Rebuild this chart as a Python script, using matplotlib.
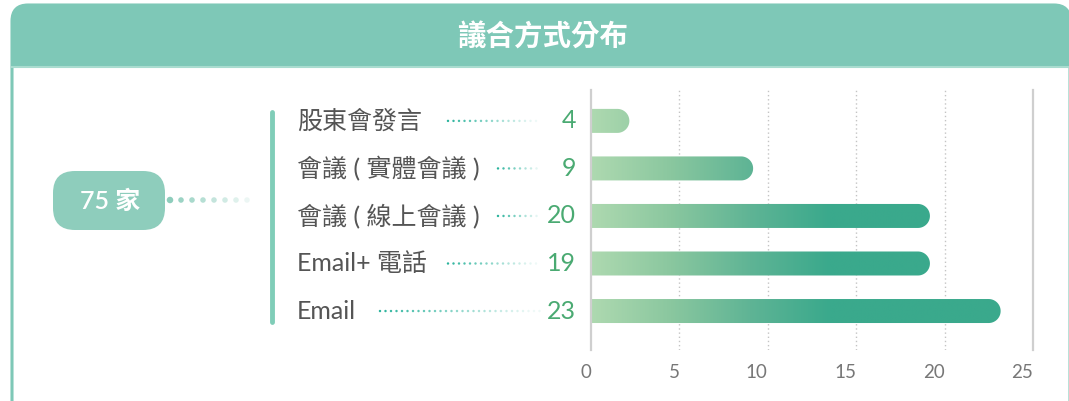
import numpy as np
import matplotlib.pyplot as plt
import matplotlib.transforms as mtransforms
from matplotlib.patches import FancyBboxPatch, Rectangle
from matplotlib.path import Path
from matplotlib.colors import LinearSegmentedColormap

title = "議合方式分布"
total_label = "75 家"
categories = ["股東會發言", "會議 ( 實體會議 )", "會議 ( 線上會議 )", "Email+ 電話", "Email"]
counts = [4, 9, 20, 19, 23]          # numbers printed next to the bars
bar_lengths = [2, 9, 19, 19, 23]     # bar lengths as drawn in the original
xticks = [0, 5, 10, 15, 20, 25]
leader_start = [448, 498, 498, 448, 380]  # x (px) where dotted leaders begin

CJK = ['Lato', 'Noto Sans CJK TC', 'DejaVu Sans']
TEAL = '#7ec8b7'

W, H = 1069, 401
fig = plt.figure(figsize=(W / 100, H / 100), dpi=100)

# background layer in pixel coordinates
bg = fig.add_axes([0, 0, 1, 1])
bg.set_xlim(0, W)
bg.set_ylim(H, 0)
bg.axis('off')

bg.add_patch(FancyBboxPatch((12, 5), 1058, 440, boxstyle="round,pad=0,rounding_size=16",
                            fc='white', ec=TEAL, lw=2.2))
bg.add_patch(FancyBboxPatch((12, 5), 1058, 62, boxstyle="round,pad=0,rounding_size=16",
                            fc=TEAL, ec='none'))
bg.add_patch(Rectangle((12, 40), 1058, 27, fc=TEAL, ec='none'))
bg.plot([12, 1070], [67, 67], color='#a9dccf', lw=1.5)
bg.text(543, 37, title, color='white', fontsize=20.5, fontweight='bold',
        family=CJK, ha='center', va='center')

# total pill + fading dots
bg.add_patch(FancyBboxPatch((53, 171), 112, 59, boxstyle="round,pad=0,rounding_size=22",
                            fc='#8ecdbc', ec='none'))
bg.text(110, 201, total_label, color='white', fontsize=18, fontweight='semibold',
        family=CJK, ha='center', va='center')
for k in range(8):
    bg.scatter(170 + 11 * k, 200, s=22 if k == 0 else 16, color='#8ecdbc',
               alpha=1 - k * 0.12, edgecolors='none')

# vertical bracket
bg.plot([272, 272], [112, 322], color='#80cdb8', lw=3.5, solid_capstyle='round')

# bar axes
ax = fig.add_axes([591 / W, 51 / H, 442 / W, 260 / H])
ax.set_xlim(0, 25)
ax.set_ylim(4.82, -0.65)
ax.patch.set_alpha(0)
for s in ['top', 'bottom']:
    ax.spines[s].set_visible(False)
for s in ['left', 'right']:
    ax.spines[s].set_color('#cfcfcf')
    ax.spines[s].set_linewidth(1.6)
ax.set_yticks([])
ax.set_xticks(xticks)
ax.set_xticklabels([str(t) for t in xticks], color='#777777', fontsize=13.5,
                   family='Lato', ha='right')
ax.tick_params(axis='x', length=0, pad=10)
for t in xticks[1:-1]:
    ax.axvline(t, color='#c4c4c4', lw=1, ls=(0, (1, 2)), zorder=0)

# gradient bars with a rounded right end
px_x = 442 / 25
px_y = 260 / (4.82 + 0.65)
hh = 12 / px_y
rx = 12 / px_x
cap = 3 / px_x  # the rounded end runs a few px past the value
paths = []
for i, v in enumerate(bar_lengths):
    th = np.linspace(-np.pi / 2, np.pi / 2, 40)
    cx = v + cap - rx
    verts = [(0, i - hh), (cx, i - hh)]
    verts += list(zip(cx + rx * np.cos(th), i + hh * np.sin(th)))
    verts += [(0, i + hh), (0, i - hh)]
    codes = [Path.MOVETO] + [Path.LINETO] * (len(verts) - 2) + [Path.CLOSEPOLY]
    paths.append(Path(verts, codes))
bars = Path.make_compound_path(*paths)

cmap = LinearSegmentedColormap.from_list('g', ['#aed9b0', '#8ac79f', '#5fb495', '#3aa98c'])
xs = np.linspace(0, 25, 600)
grad = np.clip(xs / 13.5, 0, 1)[np.newaxis, :]
im = ax.imshow(grad, extent=[0, 25, 4.82, -0.65], aspect='auto', cmap=cmap,
               vmin=0, vmax=1, interpolation='bilinear', zorder=2)
im.set_clip_path(bars, ax.transData)
ax.set_xlim(0, 25)
ax.set_ylim(4.82, -0.65)

# labels, leaders and values (x in pixels, y in row units)
trans = mtransforms.blended_transform_factory(bg.transData, ax.transData)
for i, (cat, c) in enumerate(zip(categories, counts)):
    fig.text(297, i, cat, transform=trans, color='#555555', fontsize=18,
             family=CJK, ha='left', va='center')
    fig.text(576, i, str(c), transform=trans, color='#4aaa72', fontsize=18,
             family='Lato', ha='right', va='center')
    dots = np.arange(leader_start[i], 540, 5.5)
    for k, xd in enumerate(dots):
        a = max(1 - k / len(dots), 0.08)
        bg.scatter(xd, i, s=3, color='#2ab39c', alpha=a, edgecolors='none',
                   transform=trans)

bg.set_xlim(0, W)
bg.set_ylim(H, 0)
fig.savefig('out.png', dpi=100)
